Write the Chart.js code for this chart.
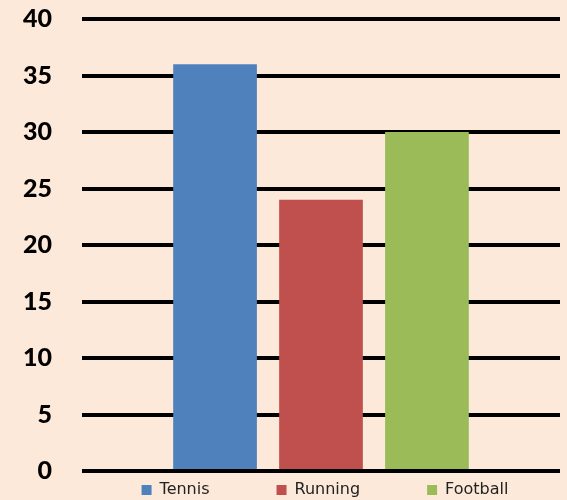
<!DOCTYPE html>
<html>
<head>
<meta charset="utf-8">
<script src="https://cdn.jsdelivr.net/npm/chart.js@4"></script>
<style>
  body { margin: 0; background: #fde9d9; }
  canvas { display: block; }
</style>
</head>
<body>
<canvas id="sports-chart" width="567" height="500"></canvas>
<script>
const sports = ["Tennis", "Running", "Football"];
const votes = [36, 24, 30];
const colors = ["#4f81bd", "#c0504d", "#9bbb59"];
const yTicks = [0, 5, 10, 15, 20, 25, 30, 35, 40];

const canvasGraph = document.querySelector("#sports-chart");

// legend gaps are wide, so keep the box short and move the items when drawing
const legendPadding = 67;
const legendTweak = {
  id: "legendTweak",
  beforeInit(chart) {
    const origFit = chart.legend.fit;
    chart.legend.fit = function () {
      origFit.call(this);
      this.height = 29;
    };
    const origDraw = chart.legend.draw;
    chart.legend.draw = function () {
      const dy = legendPadding - 11;
      const dx = 36;
      this.top -= dy;
      this.left += dx;
      this.right += dx;
      origDraw.call(this);
      this.top += dy;
      this.left -= dx;
      this.right -= dx;
    };
  },
};

const config = {
  type: "bar",
  data: {
    labels: [""],
    datasets: sports.map((name, i) => ({
      label: name,
      data: [votes[i]],
      backgroundColor: colors[i],
      borderWidth: 0,
      categoryPercentage: 0.665,
      barPercentage: 0.79,
    })),
  },
  options: {
    responsive: false,
    animation: false,
    devicePixelRatio: 1,
    layout: { padding: { top: 19, left: 18, right: 7, bottom: 0 } },
    scales: {
      x: { display: false },
      y: {
        min: 0,
        max: 40,
        afterBuildTicks(scale) {
          scale.ticks = yTicks.map((v) => ({ value: v }));
        },
        afterFit(scale) {
          scale.width = 64;
          scale.paddingTop = 0;
          scale.paddingBottom = 0;
        },
        ticks: {
          padding: 30,
          color: "#000",
          font: { family: "Lato", weight: 900, size: 25 },
        },
        grid: { color: "#000", lineWidth: 4, drawTicks: false },
        border: { display: false },
      },
    },
    plugins: {
      legend: {
        position: "bottom",
        labels: {
          boxWidth: 10,
          boxHeight: 10,
          padding: legendPadding,
          color: "#222",
          font: { family: "DejaVu Sans", size: 16 },
        },
      },
      tooltip: { enabled: false },
    },
  },
  plugins: [legendTweak],
};

const sportsChart = new Chart(canvasGraph, config);
</script>
</body>
</html>
